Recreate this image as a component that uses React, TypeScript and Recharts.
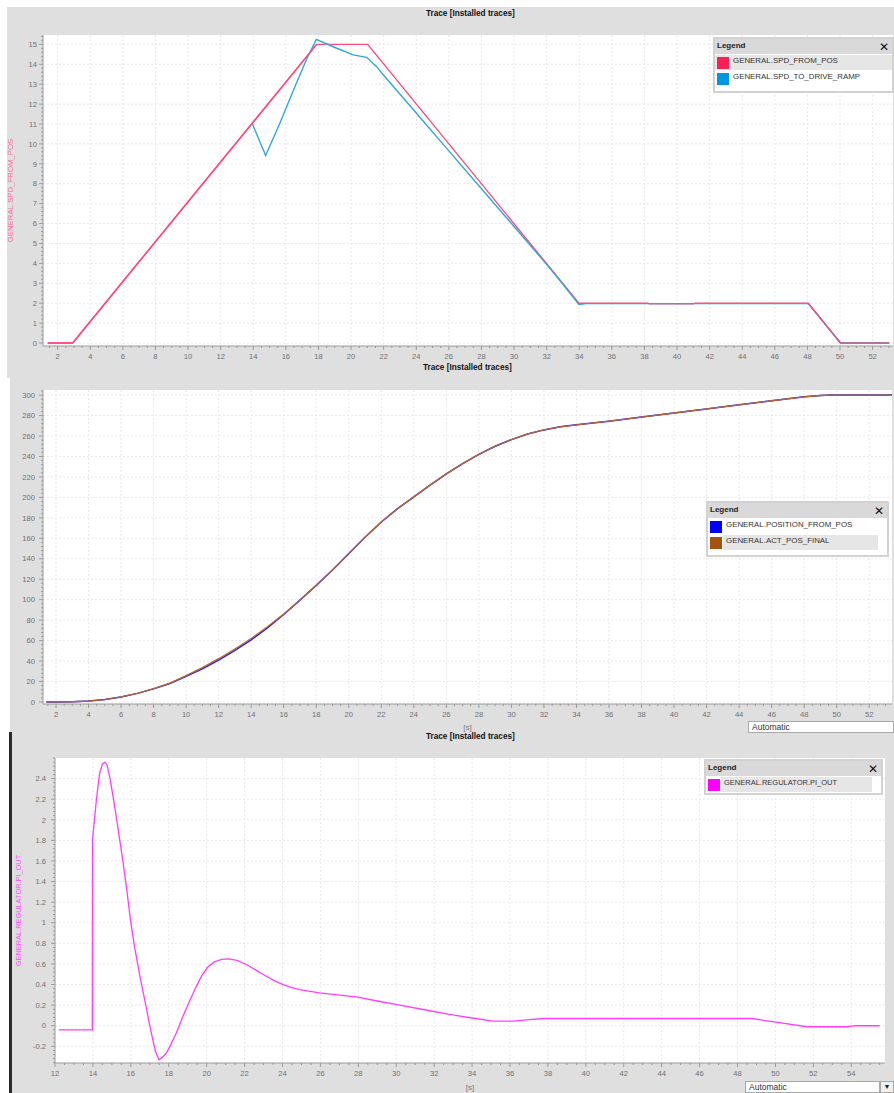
import React from 'react';
import { LineChart, Line, XAxis, YAxis, CartesianGrid, Legend } from 'recharts';

const FONT = '"Liberation Sans", Arial, Helvetica, sans-serif';
const AXIS = '#9a9a9a';
const TICK_TEXT = '#707070';
const GRID = '#e9e9e9';
const PANEL = '#dfdfdf';

// ---------- Chart 1: speed ----------
const SPD_FROM_POS = [
  { t: 1.39, v: 0 }, { t: 2.92, v: 0 }, { t: 17.89, v: 15 }, { t: 21.02, v: 15 },
  { t: 33.98, v: 2 }, { t: 38.2, v: 2 }, { t: 38.3, v: 1.97 }, { t: 41.0, v: 1.97 },
  { t: 41.1, v: 2 }, { t: 48.05, v: 2 }, { t: 50.03, v: 0 }, { t: 53.02, v: 0 },
];
const SPD_TO_DRIVE_RAMP = [
  { t: 1.39, v: 0 }, { t: 2.92, v: 0 }, { t: 13.94, v: 11.02 }, { t: 14.76, v: 9.42 },
  { t: 15.63, v: 11.04 }, { t: 16.6, v: 12.96 }, { t: 17.3, v: 14.3 }, { t: 17.87, v: 15.25 },
  { t: 18.9, v: 14.88 }, { t: 20.13, v: 14.47 }, { t: 20.95, v: 14.35 }, { t: 21.57, v: 13.88 },
  { t: 22, v: 13.45 }, { t: 24, v: 11.55 }, { t: 26, v: 9.65 }, { t: 28, v: 7.75 },
  { t: 30, v: 5.85 }, { t: 32, v: 3.95 }, { t: 33, v: 2.95 }, { t: 33.98, v: 1.93 },
  { t: 34.4, v: 1.98 }, { t: 48.05, v: 1.98 }, { t: 50.03, v: 0 }, { t: 53.02, v: 0 },
];
const X1_TICKS = [2, 4, 6, 8, 10, 12, 14, 16, 18, 20, 22, 24, 26, 28, 30, 32, 34, 36, 38, 40, 42, 44, 46, 48, 50, 52];
const Y1_TICKS = [0, 1, 2, 3, 4, 5, 6, 7, 8, 9, 10, 11, 12, 13, 14, 15];
const LEGEND1_NAMES = ['GENERAL.SPD_FROM_POS', 'GENERAL.SPD_TO_DRIVE_RAMP'];

// ---------- Chart 2: position ----------
const POSITION_FROM_POS = [
  { t: 1.4, v: 0 }, { t: 2, v: 0 }, { t: 3, v: 0.2 }, { t: 4, v: 0.9 }, { t: 5, v: 2.3 },
  { t: 6, v: 4.9 }, { t: 7, v: 8.4 }, { t: 8, v: 12.8 }, { t: 9, v: 18 }, { t: 10, v: 25 },
  { t: 11, v: 32.3 }, { t: 12, v: 41 }, { t: 13, v: 50.5 }, { t: 14, v: 60.8 }, { t: 15, v: 72.5 },
  { t: 16, v: 85.5 }, { t: 17, v: 99.5 }, { t: 18, v: 114 }, { t: 19, v: 129 }, { t: 20, v: 145 },
  { t: 21, v: 161 }, { t: 22, v: 176 }, { t: 23, v: 189 }, { t: 24, v: 200.5 }, { t: 25, v: 212 },
  { t: 26, v: 223 }, { t: 27, v: 233 }, { t: 28, v: 242 }, { t: 29, v: 250 }, { t: 30, v: 256.5 },
  { t: 31, v: 262 }, { t: 32, v: 266 }, { t: 33, v: 269 }, { t: 34, v: 271 }, { t: 36, v: 274.5 },
  { t: 38, v: 278.5 }, { t: 40, v: 282.5 }, { t: 42, v: 286.5 }, { t: 44, v: 290.5 }, { t: 46, v: 294.5 },
  { t: 48, v: 298.3 }, { t: 49, v: 299.6 }, { t: 49.6, v: 300 }, { t: 53.4, v: 300 },
];
const ACT_POS_FINAL = [
  { t: 1.4, v: 0 }, { t: 2, v: 0 }, { t: 3, v: 0.2 }, { t: 4, v: 0.9 }, { t: 5, v: 2.3 },
  { t: 6, v: 4.9 }, { t: 7, v: 8.5 }, { t: 8, v: 13 }, { t: 9, v: 18.5 }, { t: 10, v: 25.8 },
  { t: 11, v: 33.5 }, { t: 12, v: 42.3 }, { t: 13, v: 51.8 }, { t: 14, v: 62 }, { t: 15, v: 73.5 },
  { t: 16, v: 86 }, { t: 17, v: 99.5 }, { t: 18, v: 114 }, { t: 19, v: 129 }, { t: 20, v: 145 },
  { t: 21, v: 161 }, { t: 22, v: 176 }, { t: 23, v: 189 }, { t: 24, v: 200.5 }, { t: 25, v: 212 },
  { t: 26, v: 223 }, { t: 27, v: 233 }, { t: 28, v: 242 }, { t: 29, v: 250 }, { t: 30, v: 256.5 },
  { t: 31, v: 262 }, { t: 32, v: 266 }, { t: 33, v: 269 }, { t: 34, v: 271 }, { t: 36, v: 274.5 },
  { t: 38, v: 278.5 }, { t: 40, v: 282.5 }, { t: 42, v: 286.5 }, { t: 44, v: 290.5 }, { t: 46, v: 294.5 },
  { t: 48, v: 298.3 }, { t: 49, v: 299.6 }, { t: 49.6, v: 300 }, { t: 53.4, v: 300 },
];
const X2_TICKS = [2, 4, 6, 8, 10, 12, 14, 16, 18, 20, 22, 24, 26, 28, 30, 32, 34, 36, 38, 40, 42, 44, 46, 48, 50, 52];
const Y2_TICKS = [0, 20, 40, 60, 80, 100, 120, 140, 160, 180, 200, 220, 240, 260, 280, 300];
const LEGEND2_NAMES = ['GENERAL.POSITION_FROM_POS', 'GENERAL.ACT_POS_FINAL'];

// ---------- Chart 3: regulator output ----------
const PI_OUT = [
  { t: 12.2, v: -0.04 }, { t: 13.97, v: -0.04 }, { t: 13.98, v: 1.81 }, { t: 14.18, v: 2.19 },
  { t: 14.35, v: 2.45 }, { t: 14.5, v: 2.54 }, { t: 14.63, v: 2.56 }, { t: 14.75, v: 2.53 },
  { t: 14.88, v: 2.42 }, { t: 15.06, v: 2.23 }, { t: 15.23, v: 2.03 }, { t: 15.58, v: 1.6 },
  { t: 15.8, v: 1.3 }, { t: 15.97, v: 1.04 }, { t: 16.2, v: 0.76 }, { t: 16.5, v: 0.46 },
  { t: 16.79, v: 0.2 }, { t: 17.0, v: 0.0 }, { t: 17.14, v: -0.12 }, { t: 17.3, v: -0.25 },
  { t: 17.49, v: -0.33 }, { t: 17.65, v: -0.31 }, { t: 17.85, v: -0.27 }, { t: 18.04, v: -0.21 },
  { t: 18.4, v: -0.07 }, { t: 18.74, v: 0.09 }, { t: 19.1, v: 0.24 }, { t: 19.45, v: 0.38 },
  { t: 19.75, v: 0.49 }, { t: 20.06, v: 0.57 }, { t: 20.4, v: 0.62 }, { t: 20.8, v: 0.645 },
  { t: 21.16, v: 0.65 }, { t: 21.6, v: 0.635 }, { t: 22.1, v: 0.595 }, { t: 22.6, v: 0.54 },
  { t: 23.15, v: 0.48 }, { t: 23.6, v: 0.435 }, { t: 24.03, v: 0.4 }, { t: 24.5, v: 0.37 },
  { t: 24.9, v: 0.35 }, { t: 25.95, v: 0.32 }, { t: 26.9, v: 0.3 }, { t: 27.9, v: 0.28 },
  { t: 29, v: 0.24 }, { t: 30.18, v: 0.2 }, { t: 31.5, v: 0.155 }, { t: 32.8, v: 0.11 },
  { t: 34, v: 0.075 }, { t: 35.1, v: 0.045 }, { t: 36.2, v: 0.045 }, { t: 37, v: 0.06 },
  { t: 37.8, v: 0.07 }, { t: 48.76, v: 0.07 }, { t: 50.2, v: 0.03 }, { t: 51.66, v: -0.01 },
  { t: 53.8, v: -0.01 }, { t: 54.2, v: 0 }, { t: 55.5, v: 0 },
];
const X3_TICKS = [12, 14, 16, 18, 20, 22, 24, 26, 28, 30, 32, 34, 36, 38, 40, 42, 44, 46, 48, 50, 52, 54];
const Y3_TICKS = [-0.2, 0, 0.2, 0.4, 0.6, 0.8, 1, 1.2, 1.4, 1.6, 1.8, 2, 2.2, 2.4];
const LEGEND3_NAMES = ['GENERAL.REGULATOR.PI_OUT'];

const TITLE = 'Trace [Installed traces]';

// minor tick helper
const steps = (a: number, b: number, s: number) => {
  const out: number[] = [];
  for (let i = 0; a + i * s <= b + 1e-9; i++) out.push(Math.round((a + i * s) * 1000) / 1000);
  return out;
};
const isIn = (arr: number[], v: number) => arr.some((m) => Math.abs(m - v) < 1e-6);

const makeYTick = (major: number[], gap: number, fontSize: number) => (props: any) => {
  const { x, y, payload } = props;
  const v = payload.value;
  const mj = isIn(major, v);
  return (
    <g>
      <line x1={x - (mj ? 4 : 2)} x2={x} y1={y} y2={y} stroke={AXIS} />
      {mj && (
        <text x={x - gap} y={y} dy={fontSize * 0.36} textAnchor="end" fontSize={fontSize} fill={TICK_TEXT}>
          {String(Number(v.toFixed(2)))}
        </text>
      )}
    </g>
  );
};
const makeXTick = (major: number[], fontSize: number) => (props: any) => {
  const { x, y, payload } = props;
  const v = payload.value;
  const mj = isIn(major, v);
  return (
    <g>
      <line x1={x} x2={x} y1={y} y2={y + (mj ? 4 : 2)} stroke={AXIS} />
      {mj && (
        <text x={x} y={y + 12.5} textAnchor="middle" fontSize={fontSize} fill={TICK_TEXT}>
          {String(v)}
        </text>
      )}
    </g>
  );
};

const LegendBox = ({ names, colors, highlight, fullHighlight, width, fontSize }: any) => (
  <div style={{ width, background: '#fff', border: '2px solid #d2d2d2', boxSizing: 'border-box', fontFamily: FONT, paddingBottom: names.length > 1 ? 5 : 1 }}>
    <div style={{ height: 15, background: '#d9d9d9', position: 'relative' }}>
      <span style={{ position: 'absolute', left: 2, top: 2, fontWeight: 'bold', fontSize: 8, color: '#222' }}>Legend</span>
      <span style={{ position: 'absolute', right: 3, top: 1, fontWeight: 'bold', fontSize: 12, color: '#111', fontFamily: '"DejaVu Sans", sans-serif', lineHeight: '14px' }}>✕</span>
    </div>
    {names.map((n: string, i: number) => (
      <div key={n} style={{ height: 16, position: 'relative' }}>
        {i === highlight && (
          <div style={{ position: 'absolute', left: fullHighlight ? 0 : 15, right: fullHighlight ? 0 : 9, top: 1, bottom: 0, background: '#e6e6e6' }} />
        )}
        <div style={{ position: 'absolute', left: 2, top: 3, width: 12, height: 12, background: colors[i] }} />
        <span style={{ position: 'absolute', left: 18, top: 2, fontSize, color: '#333', whiteSpace: 'nowrap', lineHeight: '10px' }}>{n}</span>
      </div>
    ))}
  </div>
);

const Title = ({ top, left }: any) => (
  <div style={{ position: 'absolute', top, left, fontSize: 8.2, fontWeight: 'bold', color: '#111', whiteSpace: 'nowrap', lineHeight: '10px' }}>{TITLE}</div>
);

const AutoBox = ({ left, top, width, button }: any) => (
  <div style={{ position: 'absolute', left, top, width, height: 12, background: '#fff', border: '1px solid #a9a9a9', boxSizing: 'border-box' }}>
    <span style={{ position: 'absolute', left: 3, top: 0, fontSize: 8.5, color: '#333', lineHeight: '11px' }}>Automatic</span>
    {button && (
      <div style={{ position: 'absolute', right: -15, top: -1, width: 14, height: 12, background: '#f0f0f0', border: '1px solid #a9a9a9', boxSizing: 'border-box', fontSize: 7, lineHeight: '10px', textAlign: 'center', color: '#222' }}>▼</div>
    )}
  </div>
);

export default function App() {
  const C_PINK = '#ff4a78';
  const C_SKY = '#2fa6e2';
  const C_BLUE = '#1f1fff';
  const C_BROWN = '#b8652a';
  const C_MAG = '#ff3dff';

  return (
    <div style={{ position: 'absolute', left: 0, top: 0, width: 894, height: 1093, background: '#fff', overflow: 'hidden', fontFamily: FONT }}>
      {/* panel backgrounds */}
      <div style={{ position: 'absolute', left: 7, top: 7, width: 887, height: 371, background: PANEL }} />
      <div style={{ position: 'absolute', left: 10, top: 378, width: 884, height: 355, background: PANEL }} />
      <div style={{ position: 'absolute', left: 9, top: 732, width: 3, height: 361, background: '#2b2b2b' }} />
      <div style={{ position: 'absolute', left: 12, top: 732, width: 882, height: 361, background: PANEL }} />

      {/* Chart 1 */}
      <div style={{ position: 'absolute', left: 0, top: 0 }}>
        <LineChart width={894} height={378} margin={{ top: 35, right: 1, left: 0, bottom: 0 }}>
          <CartesianGrid fill="#fff" stroke={GRID} strokeDasharray="2 2" horizontalValues={Y1_TICKS} verticalValues={X1_TICKS} />
          <XAxis type="number" dataKey="t" domain={[1.1, 53.25]} allowDataOverflow ticks={steps(1.5, 53, 0.5)} interval={0}
            height={32} tickSize={0} tickMargin={0} tickLine={false} stroke={AXIS} tick={makeXTick(X1_TICKS, 7.6)} />
          <YAxis type="number" domain={[-0.15, 15.47]} allowDataOverflow ticks={steps(0, 15.4, 0.2)} interval={0}
            width={43} tickSize={0} tickMargin={0} tickLine={false} stroke={AXIS} tick={makeYTick(Y1_TICKS, 6, 7.6)}
            label={{ value: 'GENERAL.SPD_FROM_POS', angle: -90, position: 'insideLeft', offset: 10, fill: '#ff6a90', fontSize: 7.8, style: { textAnchor: 'middle' } }} />
          <Line data={SPD_FROM_POS} dataKey="v" name={LEGEND1_NAMES[0]} type="linear" stroke={C_PINK} strokeWidth={1.4} dot={false} activeDot={false} isAnimationActive={false} />
          <Line data={SPD_TO_DRIVE_RAMP.slice(2)} dataKey="v" name={LEGEND1_NAMES[1]} type="linear" stroke={C_SKY} strokeWidth={1.4} dot={false} activeDot={false} isAnimationActive={false} />
          <Line data={SPD_FROM_POS.slice(0, 3)} dataKey="v" name="ramp-overlay" legendType="none" type="linear" stroke={C_PINK} strokeWidth={1.4} dot={false} activeDot={false} isAnimationActive={false} />
          <Line data={SPD_FROM_POS.slice(9)} dataKey="v" name="end-overlay" legendType="none" type="linear" stroke={C_PINK} strokeWidth={1.2} dot={false} activeDot={false} isAnimationActive={false} />
          <Legend layout="horizontal" verticalAlign="middle" align="center" wrapperStyle={{ left: 713, top: 37, width: 181 }}
            content={() => <LegendBox names={LEGEND1_NAMES} colors={['#ff1f55', '#0096e2']} highlight={0} fullHighlight width={181} fontSize={7.9} />} />
        </LineChart>
      </div>
      <Title top={9} left={426} />
      <Title top={363} left={423} />

      {/* Chart 2 */}
      <div style={{ position: 'absolute', left: 0, top: 378 }}>
        <LineChart width={894} height={367} margin={{ top: 12, right: 2, left: 0, bottom: 0 }}>
          <CartesianGrid fill="#fff" stroke={GRID} strokeDasharray="2 2" horizontalValues={Y2_TICKS} verticalValues={X2_TICKS} />
          <XAxis type="number" dataKey="t" domain={[1.2, 53.4]} allowDataOverflow ticks={steps(1.5, 53, 0.5)} interval={0}
            height={41} tickSize={0} tickMargin={0} tickLine={false} stroke={AXIS} tick={makeXTick(X2_TICKS, 7.6)}
            label={{ value: '[s]', position: 'insideBottom', offset: 15, fill: '#777', fontSize: 8 }} />
          <YAxis type="number" domain={[-2, 305]} allowDataOverflow ticks={steps(0, 304, 4)} interval={0}
            width={43} tickSize={0} tickMargin={0} tickLine={false} stroke={AXIS} tick={makeYTick(Y2_TICKS, 8, 7.6)} />
          <Line data={POSITION_FROM_POS} dataKey="v" name={LEGEND2_NAMES[0]} type="linear" stroke={C_BLUE} strokeWidth={1.5} dot={false} activeDot={false} isAnimationActive={false} />
          <Line data={ACT_POS_FINAL} dataKey="v" name={LEGEND2_NAMES[1]} type="linear" stroke={C_BROWN} strokeWidth={1.3} dot={false} activeDot={false} isAnimationActive={false} />
          <Legend layout="horizontal" verticalAlign="middle" align="center" wrapperStyle={{ left: 706, top: 123, width: 183 }}
            content={() => <LegendBox names={LEGEND2_NAMES} colors={['#0000ff', '#a4520e']} highlight={1} width={183} fontSize={7.9} />} />
        </LineChart>
      </div>
      <AutoBox left={748} top={721} width={146} />
      <Title top={732} left={426} />

      {/* Chart 3 */}
      <div style={{ position: 'absolute', left: 0, top: 745 }}>
        <LineChart width={894} height={348} margin={{ top: 13, right: 9, left: 0, bottom: 0 }}>
          <CartesianGrid fill="#fff" stroke={GRID} strokeDasharray="2 2" horizontalValues={Y3_TICKS} verticalValues={X3_TICKS} />
          <XAxis type="number" dataKey="t" domain={[12, 55.78]} allowDataOverflow ticks={steps(12, 55.5, 0.5)} interval={0}
            height={30} tickSize={0} tickMargin={0} tickLine={false} stroke={AXIS} tick={makeXTick(X3_TICKS, 7.6)}
            label={{ value: '[s]', position: 'insideBottom', offset: 3, fill: '#777', fontSize: 8 }} />
          <YAxis type="number" domain={[-0.362, 2.6]} allowDataOverflow ticks={steps(-0.36, 2.6, 0.04)} interval={0}
            width={55} tickSize={0} tickMargin={0} tickLine={false} stroke={AXIS} tick={makeYTick(Y3_TICKS, 9, 7.6)}
            label={{ value: 'GENERAL.REGULATOR.PI_OUT', angle: -90, position: 'insideLeft', offset: 18, fill: '#ff4dff', fontSize: 7.4, style: { textAnchor: 'middle' } }} />
          <Line data={PI_OUT} dataKey="v" name={LEGEND3_NAMES[0]} type="linear" stroke={C_MAG} strokeWidth={1.3} dot={false} activeDot={false} isAnimationActive={false} />
          <Legend layout="horizontal" verticalAlign="middle" align="center" wrapperStyle={{ left: 704, top: 14, width: 179 }}
            content={() => <LegendBox names={LEGEND3_NAMES} colors={['#ff00ff']} highlight={0} width={179} fontSize={7.5} />} />
        </LineChart>
      </div>
      <AutoBox left={745} top={1081} width={135} button />
    </div>
  );
}
